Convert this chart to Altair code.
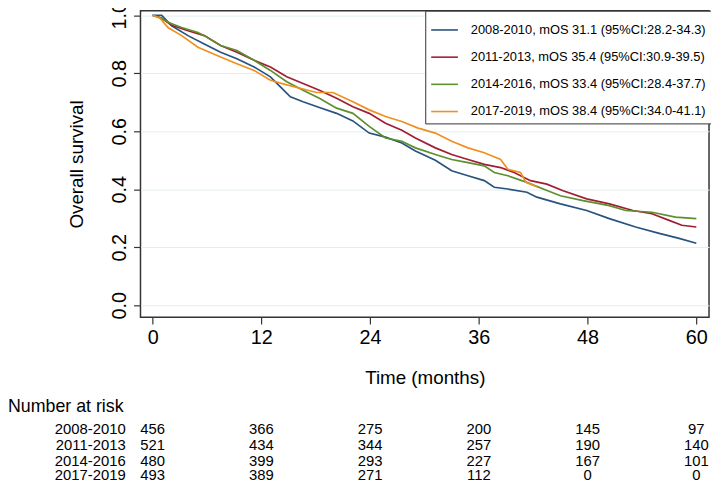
import altair as alt
import pandas as pd

FONT = "Liberation Sans, Arial"

cohorts = ["2008-2010", "2011-2013", "2014-2016", "2017-2019"]
legend_labels = [
    "2008-2010, mOS 31.1 (95%CI:28.2-34.3)",
    "2011-2013, mOS 35.4 (95%CI:30.9-39.5)",
    "2014-2016, mOS 33.4 (95%CI:28.4-37.7)",
    "2017-2019, mOS 38.4 (95%CI:34.0-41.1)",
]
colors = ["#27537f", "#a11d33", "#5c8f2e", "#f0901f"]

t_2008 = [0, 1.0, 2.1, 3.9, 5.7, 7.5, 9.3, 11.2, 13.0, 14.1, 15.2, 16.6, 18.4, 20.3, 22.1, 23.9,
          25.7, 27.5, 29.0, 31.2, 33.0, 34.8, 36.6, 37.7, 39.2, 41.3, 42.4, 45.0, 47.9, 50.4,
          53.3, 55.9, 58.1, 60]
s_2008 = [1.0, 1.0, 0.964, 0.93, 0.901, 0.873, 0.85, 0.822, 0.788, 0.753, 0.719, 0.702, 0.682,
          0.662, 0.636, 0.594, 0.58, 0.56, 0.532, 0.5, 0.464, 0.447, 0.43, 0.407, 0.401, 0.39,
          0.373, 0.35, 0.327, 0.299, 0.27, 0.248, 0.231, 0.214]

t_2011 = [0, 1.0, 2.1, 3.9, 5.7, 7.5, 9.3, 11.2, 13.0, 14.8, 16.6, 18.4, 20.3, 22.1, 23.9, 25.7,
          27.5, 29.0, 31.2, 33.0, 34.8, 36.6, 38.4, 39.9, 41.7, 43.5, 45.3, 47.9, 50.4, 53.0,
          55.1, 57.0, 58.4, 60]
s_2011 = [1.0, 0.99, 0.966, 0.947, 0.93, 0.896, 0.873, 0.845, 0.822, 0.788, 0.765, 0.742, 0.714,
          0.685, 0.662, 0.628, 0.604, 0.577, 0.543, 0.52, 0.503, 0.486, 0.475, 0.458, 0.43,
          0.418, 0.395, 0.367, 0.35, 0.327, 0.316, 0.293, 0.276, 0.27]

t_2014 = [0, 1.0, 1.7, 3.2, 5.0, 5.7, 7.5, 9.3, 11.2, 13.0, 14.8, 16.6, 18.4, 20.3, 22.1, 23.9,
          25.7, 27.5, 29.0, 31.2, 33.0, 34.8, 36.6, 37.7, 39.2, 41.3, 43.1, 45.0, 47.5, 50.4,
          52.2, 55.1, 57.7, 60]
s_2014 = [1.0, 0.99, 0.976, 0.958, 0.941, 0.93, 0.896, 0.879, 0.845, 0.81, 0.771, 0.742, 0.714,
          0.68, 0.662, 0.617, 0.577, 0.566, 0.543, 0.52, 0.503, 0.492, 0.481, 0.458, 0.447,
          0.424, 0.401, 0.378, 0.361, 0.344, 0.327, 0.321, 0.304, 0.299]

t_2017 = [0, 0.8, 1.7, 3.2, 5.0, 7.5, 9.3, 11.2, 13.0, 14.8, 16.6, 18.1, 19.9, 22.1, 23.9, 25.7,
          27.5, 29.3, 31.2, 33.0, 34.8, 36.6, 38.4, 39.2, 40.6, 41.2, 42.4]
s_2017 = [1.0, 0.99, 0.958, 0.93, 0.89, 0.856, 0.833, 0.81, 0.776, 0.76, 0.746, 0.734, 0.734,
          0.702, 0.674, 0.651, 0.634, 0.611, 0.594, 0.566, 0.543, 0.526, 0.503, 0.469, 0.458,
          0.424, 0.409]

risk_times = [0, 12, 24, 36, 48, 60]
risk_2008 = [456, 366, 275, 200, 145, 97]
risk_2011 = [521, 434, 344, 257, 190, 140]
risk_2014 = [480, 399, 293, 227, 167, 101]
risk_2017 = [493, 389, 271, 112, 0, 0]

# ---- build tables
series_t = [t_2008, t_2011, t_2014, t_2017]
series_s = [s_2008, s_2011, s_2014, s_2017]
rows = []
for lab, ts, ss in zip(legend_labels, series_t, series_s):
    for t, s in zip(ts, ss):
        rows.append({"series": lab, "time": t, "surv": s})
curves = pd.DataFrame(rows)

risk_lists = [risk_2008, risk_2011, risk_2014, risk_2017]
rrows = []
for c, lst in zip(cohorts, risk_lists):
    for t, n in zip(risk_times, lst):
        rrows.append({"cohort": c, "time": t, "n": str(n)})
risk = pd.DataFrame(rrows)

W, H = 575, 310
xscale = alt.Scale(domain=[-1.34, 61.4], nice=False, zero=False)
yscale = alt.Scale(domain=[-0.0409, 1.016], nice=False, zero=False)

xaxis = alt.Axis(values=risk_times, title="Time (months)", grid=False, domain=False,
                 tickSize=7, tickColor="#333333", tickWidth=1.2,
                 labelFontSize=20, labelPadding=4, labelColor="black",
                 titleFontSize=19, titleFontWeight="normal", titlePadding=21,
                 titleColor="black")
yaxis = alt.Axis(values=[0, 0.2, 0.4, 0.6, 0.8, 1.0], format=".1f", title="Overall survival",
                 grid=True, gridColor="#e4eef0", gridWidth=1, domain=False,
                 tickSize=7, tickColor="#333333", tickWidth=1.2,
                 labelAngle=-90, labelAlign="center", labelBaseline="bottom",
                 labelFontSize=20, labelPadding=4, labelColor="black",
                 titleFontSize=19, titleFontWeight="normal", titlePadding=24,
                 titleColor="black")

x_enc = alt.X("time:Q", scale=xscale, axis=xaxis)

lines = alt.Chart(curves).mark_line(strokeWidth=1.7, interpolate="linear").encode(
    x=x_enc,
    y=alt.Y("surv:Q", scale=yscale, axis=yaxis),
    color=alt.Color("series:N", sort=legend_labels,
                    scale=alt.Scale(domain=legend_labels, range=colors),
                    legend=alt.Legend(orient="none", legendX=288, legendY=0, title=None,
                                      symbolType="stroke", symbolSize=729,
                                      symbolStrokeWidth=1.6, labelFontSize=13,
                                      labelFont=FONT, labelOffset=12, padding=5,
                                      rowPadding=5.5, strokeColor="#333333",
                                      fillColor="white", labelLimit=400,
                                      labelColor="black")),
    order=alt.Order("time:Q"),
)

row_y = [423, 439, 455, 470]
layers = [lines]
layers.append(
    alt.Chart(pd.DataFrame({"lab": ["Number at risk"]})).mark_text(
        align="left", baseline="middle", fontSize=18, font=FONT, color="black"
    ).encode(x=alt.value(-134), y=alt.value(401), text="lab:N")
)
for c, yy in zip(cohorts, row_y):
    layers.append(
        alt.Chart(pd.DataFrame({"lab": [c]})).mark_text(
            align="right", baseline="middle", fontSize=15, font=FONT, color="black"
        ).encode(x=alt.value(-15), y=alt.value(yy), text="lab:N")
    )
    layers.append(
        alt.Chart(risk).transform_filter(alt.datum.cohort == c).mark_text(
            align="center", baseline="middle", fontSize=15, font=FONT, color="black"
        ).encode(x=x_enc, y=alt.value(yy), text="n:N")
    )

chart = alt.layer(*layers).properties(
    width=W, height=H,
    autosize=alt.AutoSizeParams(type="none"),
    padding={"left": 134, "top": 0, "right": 2, "bottom": 167},
).configure(font=FONT).configure_view(
    stroke="#333333", strokeWidth=1.5
).configure_axis(labelFont=FONT, titleFont=FONT)

chart.save("out.html", embed_options={"renderer": "svg", "actions": False})
